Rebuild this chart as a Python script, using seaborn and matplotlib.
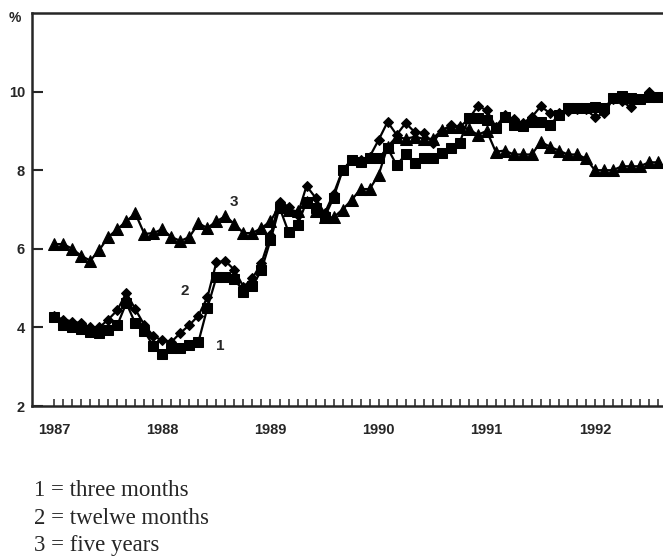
import numpy as np
import pandas as pd
import seaborn as sns
import matplotlib.pyplot as plt

# monthly interest rates, Jan 1987 - Aug 1992 (%)
three_months = [4.26, 4.06, 4.0, 3.96, 3.88, 3.85, 3.93, 4.06, 4.62, 4.1, 3.9, 3.53,
                3.33, 3.47, 3.47, 3.55, 3.63, 4.5, 5.28, 5.28, 5.24, 4.9, 5.05, 5.46,
                6.22, 7.05, 6.43, 6.6, 7.2, 7.04, 6.8, 7.3, 8.0, 8.26, 8.2, 8.3,
                8.3, 8.56, 8.13, 8.4, 8.18, 8.3, 8.3, 8.43, 8.56, 8.7, 9.33, 9.33,
                9.28, 9.07, 9.35, 9.15, 9.12, 9.23, 9.23, 9.15, 9.4, 9.57, 9.57, 9.57,
                9.6, 9.57, 9.83, 9.9, 9.83, 9.8, 9.87, 9.87]
twelve_months = [4.28, 4.2, 4.15, 4.1, 4.0, 4.0, 4.2, 4.44, 4.88, 4.46, 4.06, 3.78,
                 3.67, 3.63, 3.86, 4.06, 4.3, 4.77, 5.66, 5.69, 5.46, 5.03, 5.25, 5.64,
                 6.35, 7.2, 7.07, 6.86, 7.6, 7.3, 6.9, 7.4, 8.0, 8.26, 8.26, 8.34,
                 8.77, 9.23, 8.9, 9.2, 8.97, 8.95, 8.7, 9.0, 9.15, 9.1, 9.3, 9.63,
                 9.53, 9.1, 9.4, 9.3, 9.2, 9.35, 9.63, 9.45, 9.45, 9.5, 9.55, 9.55,
                 9.35, 9.45, 9.8, 9.75, 9.6, 9.8, 10.0, 9.87]
five_years = [6.12, 6.12, 6.0, 5.82, 5.7, 5.97, 6.3, 6.5, 6.7, 6.9, 6.38, 6.4,
              6.5, 6.3, 6.2, 6.3, 6.65, 6.53, 6.7, 6.83, 6.63, 6.4, 6.4, 6.53,
              6.7, 7.1, 7.0, 6.95, 7.2, 6.95, 6.8, 6.8, 7.0, 7.24, 7.52, 7.52,
              7.88, 8.6, 8.85, 8.8, 8.85, 8.8, 8.8, 9.02, 9.1, 9.1, 9.05, 8.9,
              9.0, 8.47, 8.5, 8.4, 8.4, 8.4, 8.72, 8.6, 8.5, 8.4, 8.4, 8.3,
              8.0, 8.0, 8.0, 8.1, 8.1, 8.1, 8.2, 8.2]
years = ["1987", "1988", "1989", "1990", "1991", "1992"]
legend_lines = ["1 = three months", "2 = twelwe months", "3 = five years"]

month = np.arange(len(three_months))
df = pd.DataFrame({"month": month, "three": three_months,
                   "twelve": twelve_months, "five": five_years})

sns.set_style("ticks")
plt.rcParams["font.family"] = ["Liberation Sans", "DejaVu Sans"]

fig = plt.figure(figsize=(6.63, 5.59), dpi=100)
ax = fig.add_axes([32 / 663, 1 - 406 / 559, 1 - 32 / 663 + 0.01, (406 - 13) / 559])

line_kw = dict(color="black", linewidth=1.6, markeredgecolor="black", ax=ax)
sns.lineplot(data=df, x="month", y="five", marker="^", markersize=8, **line_kw)
sns.lineplot(data=df, x="month", y="twelve", marker="D", markersize=5.5, **line_kw)
sns.lineplot(data=df, x="month", y="three", marker="s", markersize=7.5, **line_kw)

ax.set_xlim(-2.47, 68.3)
ax.set_ylim(2, 12)
ax.set_xlabel("")
ax.set_ylabel("")

ax.set_yticks([2, 4, 6, 8, 10])
ax.tick_params(axis="y", direction="in", length=8, width=1.5, pad=5, labelsize=10.5)
ax.set_xticks(np.arange(0, 61, 12))
ax.set_xticklabels(years)
ax.set_xticks(month, minor=True)
ax.tick_params(axis="x", which="both", direction="in", length=5, width=1.1, pad=12, labelsize=10.5)
for lab in ax.get_xticklabels() + ax.get_yticklabels():
    lab.set_fontweight("bold")

for side in ["left", "bottom", "top"]:
    ax.spines[side].set_linewidth(1.8)
ax.spines["right"].set_visible(False)

# series labels
ax.text(19.96, 7.19, "3", fontsize=11, fontweight="bold", ha="center", va="center")
ax.text(14.46, 4.93, "2", fontsize=11, fontweight="bold", ha="center", va="center")
ax.text(18.4, 3.53, "1", fontsize=11, fontweight="bold", ha="center", va="center")

fig.text(15 / 663, 1 - 18 / 559, "%", fontsize=10, fontweight="bold", ha="center", va="center")

for i, txt in enumerate(legend_lines):
    fig.text(34 / 663, 1 - (491 + 27 * i) / 559, txt, fontsize=16.5,
             family=["Liberation Serif", "DejaVu Serif"], ha="left", va="center")

fig.savefig("out.png", dpi=100)
